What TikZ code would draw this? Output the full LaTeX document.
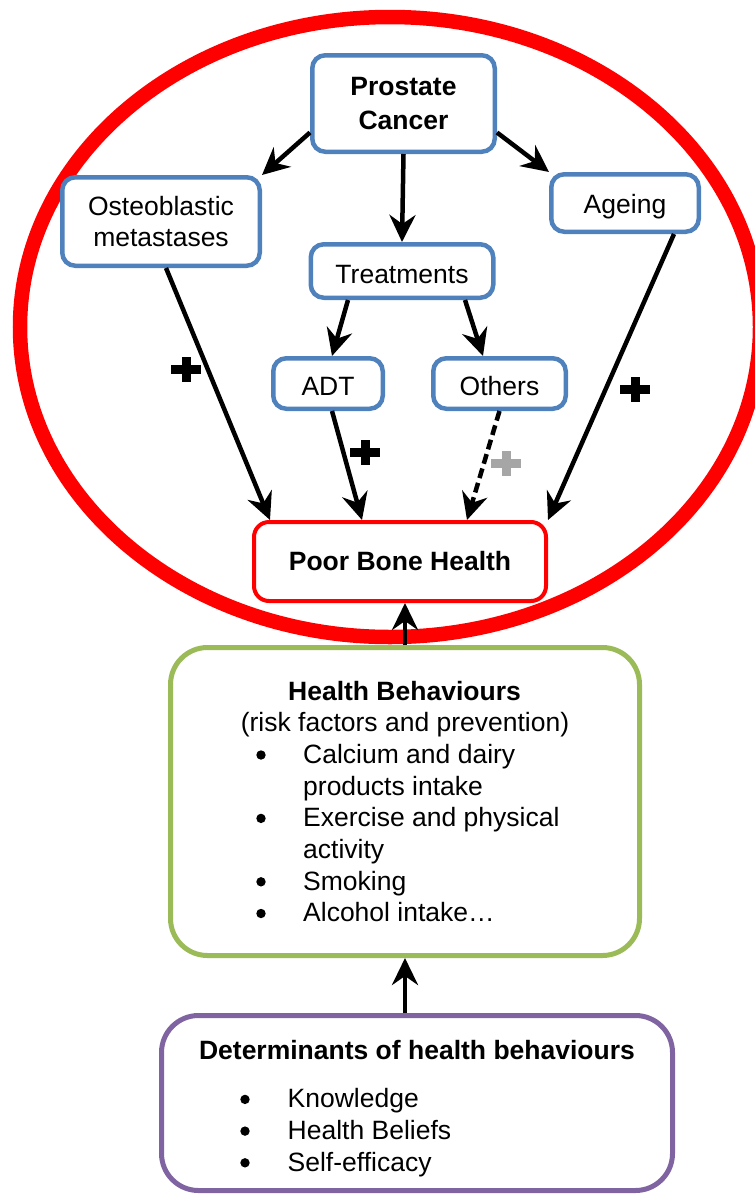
\documentclass[tikz,border=0pt]{standalone}
\usepackage{fontspec}
\setmainfont{Liberation Sans}
\usetikzlibrary{arrows.meta}
\definecolor{boxblue}{HTML}{4F81BD}
\definecolor{boxgreen}{HTML}{9BBB59}
\definecolor{boxpurple}{HTML}{8064A2}
\definecolor{plusgray}{HTML}{A6A6A6}
\begin{document}
\begin{tikzpicture}[x=1pt,y=-1pt,
  txt/.style={font=\fontsize{26.5}{31.7}\selectfont},
  boldtxt/.style={font=\fontsize{26.5}{31.7}\selectfont\bfseries},
  roundbox/.style={txt, rounded corners=#1, fill=white, inner sep=0pt, align=center},
  bluebox/.style={roundbox=13pt, draw=boxblue, line width=4.5pt},
  link/.style={draw=black, line width=4.5pt, -{Stealth[length=27pt,width=26pt,inset=9pt]}},
  plusbar/.style={line width=9pt},
  listdot/.style={fill=black}
]
\useasboundingbox (0,0) rectangle (755,1197);
\clip (0,0) rectangle (755,1197);

% outer ring
\draw[red, line width=14.5pt] (390,327) ellipse [x radius=370pt, y radius=310pt];

% upper part: causes
\node[bluebox, minimum width=182.5pt, minimum height=96.5pt,
      font=\fontsize{26.5}{34}\selectfont\bfseries] (pc) at (403.5,103.5) {Prostate\\Cancer};
\node[bluebox, minimum width=197.5pt, minimum height=88.5pt] (osteo) at (161,221.5) {Osteoblastic\\metastases};
\node[bluebox, minimum width=147.5pt, minimum height=57.5pt, text height=20pt, text depth=0pt] (ageing) at (625,203) {Ageing};
\node[bluebox, minimum width=182.5pt, minimum height=53.5pt, text height=24.5pt, text depth=0pt] (treat) at (402,271) {Treatments};
\node[bluebox, minimum width=109.5pt, minimum height=50.5pt, text height=24.5pt, text depth=0pt] (adt) at (328,383.5) {ADT};
\node[bluebox, minimum width=132.5pt, minimum height=50.5pt, text height=24.5pt, text depth=0pt] (others) at (499.5,383.5) {Others};

\node[roundbox=15pt, draw=red, line width=4pt, minimum width=292pt, minimum height=79pt,
      text height=18.4pt, text depth=0pt, boldtxt] (pbh) at (400,561.5) {Poor Bone Health};

% health behaviours
\node[roundbox=37pt, draw=boxgreen, line width=5pt, minimum width=469pt, minimum height=308pt] (hb) at (405,801.5) {};
\node[boldtxt, anchor=base] (hbtitle) at (404.5,700) {Health Behaviours};
\node[txt, anchor=base] (hbsub) at (405,731.5) {(risk factors and prevention)};
\node[txt, anchor=base west, inner sep=0pt] (hblist) at (303,763.3) {%
  \begin{tabular}[t]{@{}l@{}}
  Calcium and dairy\\
  products intake\\
  Exercise and physical\\
  activity\\
  Smoking\\
  Alcohol intake…
  \end{tabular}};
\foreach \y in {755, 818.4, 881.8, 913.5}
  \fill[listdot] (261,\y) circle (4.7pt);

% determinants
\node[roundbox=37pt, draw=boxpurple, line width=5pt, minimum width=511pt, minimum height=175pt] (det) at (417,1103) {};
\node[boldtxt, anchor=base] (dettitle) at (417,1059.5) {Determinants of health behaviours};
\node[txt, anchor=base west, inner sep=0pt] (detlist) at (287.5,1107.7) {%
  \begin{tabular}[t]{@{}l@{}}
  Knowledge\\
  Health Beliefs\\
  Self-efficacy
  \end{tabular}};
\foreach \y in {1099.4, 1131.1, 1162.8}
  \fill[listdot] (245,\y) circle (4.7pt);

% connectors
\draw[link] ([yshift=-29pt]pc.west) -- (osteo.north east);
\draw[link] ([yshift=-29pt]pc.east) -- (ageing.north west);
\draw[link] (pc.south) -- (treat.north);
\draw[link] ([xshift=-54pt]treat.south) -- ([xshift=4pt]adt.north);
\draw[link] ([xshift=63pt]treat.south) -- ([xshift=-16.5pt]others.north);
\draw[link] ([xshift=5pt]osteo.south) -- ([xshift=-130pt]pbh.north);
\draw[link] ([xshift=4pt]adt.south) -- ([xshift=-38pt]pbh.north);
\draw[link, dash pattern=on 10pt off 5pt] (others.south) -- ([xshift=67pt]pbh.north);
\draw[link] ([xshift=49pt]ageing.south) -- (pbh.north east);
\draw[link] (hb.north) -- (hb.north |- pbh.south);
\draw[link] ([xshift=-12pt]det.north) -- ([xshift=-12pt]det.north |- hb.south);

% effect signs
\coordinate (plusA) at (186,369);
\coordinate (plusB) at (365,452);
\coordinate (plusC) at (635,389);
\coordinate (plusD) at (506,463);
\foreach \p/\c in {plusA/black, plusB/black, plusC/black, plusD/plusgray} {
  \draw[plusbar, \c] ([xshift=-15pt]\p) -- ([xshift=15pt]\p);
  \draw[plusbar, \c] ([yshift=-12.5pt]\p) -- ([yshift=12.5pt]\p);
}
\end{tikzpicture}
\end{document}
